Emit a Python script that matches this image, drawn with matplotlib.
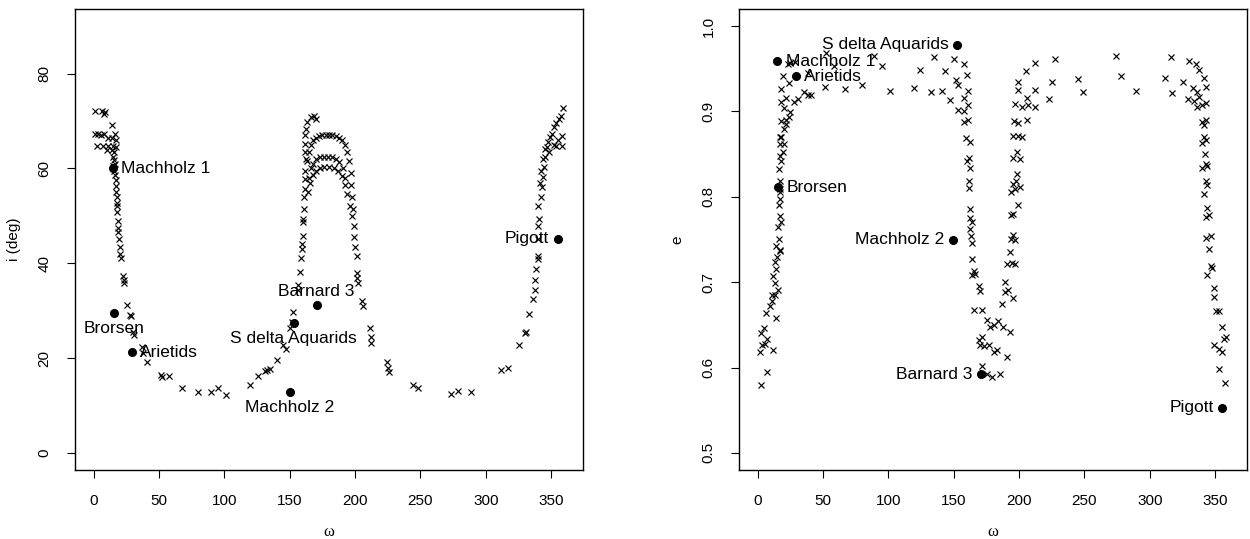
import matplotlib.pyplot as plt

plt.rcParams['font.family'] = ['Liberation Sans', 'DejaVu Sans']

# left panel: omega vs inclination
omega_i = [1.0, 6.6, 8.5, 7.5, 14.2, 1.0, 3.5, 5.6, 8.1, 16.2, 10.6, 13.7, 16.7, 2.3, 7.4, 11.2, 15.0, 16.7,
           9.9, 13.7, 15.7, 14.5, 15.5, 16.3, 14.5, 15.8, 16.5, 17.0, 16.8, 17.3, 17.6, 17.8, 17.5, 18.0,
           18.4, 18.8, 18.6, 19.2, 19.8, 20.4, 21.0, 22.1, 23.3, 22.8, 25.1, 27.6, 28.2, 30.2, 31.0, 37.0,
           37.5, 40.8, 51.2, 52.0, 57.3, 67.5, 79.6, 89.8, 95.4, 101.2, 119.7, 125.3, 130.9, 132.9, 134.9,
           140.5, 145.1, 147.0, 150.1, 151.9, 152.7,
           156.2, 156.5, 157.8, 158.8, 159.2, 159.5, 159.8, 160.2, 160.4, 160.7, 161.2, 161.4, 161.8, 162.0,
           162.5, 162.0, 161.5, 161.6, 162.2, 163.5, 166.0, 168.5, 170.0,
           163.5, 164.5, 166.0, 168.0, 170.0, 172.5, 175.0, 177.5, 180.0, 182.5, 185.0, 187.5, 190.0, 192.0,
           194.0, 195.5, 196.5, 197.0, 197.5,
           165.0, 166.5, 168.0, 170.0, 173.0, 176.0, 179.0, 182.0, 185.0, 188.0, 190.5, 192.5,
           164.0, 165.5, 167.5, 170.0, 173.0, 176.0, 180.0, 184.0, 187.0, 190.0, 192.0, 193.5,
           196.0, 197.5, 198.3, 198.8, 199.5, 200.0, 201.4, 201.4, 201.6, 202.2, 205.2, 205.8, 211.5, 211.8,
           212.0, 224.2, 225.5, 226.0, 244.5, 248.3,
           273.7, 278.7, 288.9, 311.7, 316.8, 325.6, 330.2, 330.8, 332.7, 335.8, 337.8, 337.6, 338.3, 339.6,
           340.3, 340.0, 340.2, 341.0, 340.3, 342.4, 343.2, 344.0, 344.7, 345.4, 347.0, 349.2, 352.3, 356.1,
           359.0, 343.5, 345.0, 347.5, 350.5, 354.0, 357.5, 348.0, 352.0, 355.5, 358.5, 354.0, 358.0, 342.5,
           341.8]
incl = [72.0, 72.0, 71.8, 71.5, 69.2, 67.3, 67.3, 67.0, 67.3, 67.3, 66.3, 66.3, 66.0, 64.8, 64.8, 64.8, 64.8, 64.5,
        63.8, 63.8, 63.5, 62.5, 61.8, 61.0, 60.5, 59.5, 58.5, 57.5, 56.3, 55.0, 54.0, 52.8, 52.0, 50.8,
        49.0, 47.5, 46.5, 45.0, 43.5, 42.0, 41.1, 37.3, 35.8, 36.5, 31.2, 29.1, 28.8, 25.6, 24.8, 22.4,
        21.1, 19.2, 16.4, 16.0, 16.2, 13.6, 12.9, 12.9, 13.6, 12.2, 14.3, 16.2, 17.3, 17.5, 17.8,
        19.6, 22.8, 22.0, 26.3, 27.7, 29.8,
        34.4, 35.5, 38.1, 41.1, 43.0, 44.0, 45.7, 48.6, 49.3, 51.4, 53.9, 55.6, 57.8, 59.5,
        62.0, 63.4, 65.2, 67.0, 68.4, 69.8, 70.8, 71.1, 70.5,
        61.5, 63.5, 65.0, 66.0, 66.5, 66.8, 67.0, 67.0, 67.0, 67.0, 66.8, 66.5, 66.0, 65.0,
        63.5, 61.5, 59.0, 56.5, 54.0,
        58.0, 60.0, 61.0, 62.0, 62.3, 62.4, 62.4, 62.3, 62.0, 61.3, 60.0, 58.0,
        55.0, 57.0, 58.5, 59.5, 60.0, 60.2, 60.2, 60.0, 59.4, 58.3, 56.5, 54.5,
        52.0, 50.0, 51.4, 47.9, 45.5, 43.5, 41.5, 38.0, 36.8, 35.8, 32.0, 30.9, 26.3, 24.5,
        23.1, 19.2, 18.0, 17.1, 14.3, 13.6,
        12.4, 13.1, 12.9, 17.5, 18.0, 22.8, 25.2, 25.6, 29.3, 32.4, 34.3, 36.4, 38.8, 40.8,
        41.5, 45.0, 47.9, 49.3, 52.1, 53.9, 56.0, 58.1, 60.2, 62.4, 64.5, 66.6, 68.7, 70.4,
        72.8, 62.0, 64.0, 65.5, 67.3, 69.5, 71.0, 63.5, 65.0, 66.0, 66.8, 64.8, 64.8, 59.5,
        57.0]

# right panel: omega vs eccentricity
omega_e = [2.2, 7.2, 1.4, 2.2, 4.7, 3.2, 5.7, 7.2, 11.6, 14.1, 6.5, 9.0, 10.8, 10.5, 13.3, 15.4, 13.3, 11.6,
           14.1, 12.8, 14.9, 14.1, 16.6, 17.0, 16.1, 15.4, 17.9, 16.8, 15.9, 16.6, 16.6, 17.0, 16.6, 15.9,
           17.9, 17.0, 19.2, 17.0, 20.0, 17.9, 16.6, 20.4, 21.5, 17.9, 21.5, 24.2, 25.0, 19.9, 17.9, 21.5,
           17.9, 24.2, 27.6, 30.6, 35.7, 38.2, 19.2, 23.0, 41.0, 51.4, 66.6, 79.6, 100.9, 119.5, 132.2,
           38.2, 52.2, 58.0, 89.0, 95.3, 124.5, 134.7, 25.0, 28.5,
           149.9, 143.6, 157.5, 141.0, 147.4, 152.0, 153.5, 160.1, 157.5, 161.2, 153.5, 157.5, 161.2, 157.5,
           161.2, 159.6, 162.7, 160.1, 162.2, 161.5, 161.5, 161.5, 162.2, 162.2, 163.9, 162.7, 163.2, 163.9,
           163.9, 165.1, 163.9, 166.4, 169.0, 170.2, 165.1, 171.5, 175.3, 177.8, 180.4, 184.2, 188.0, 193.0,
           169.0, 171.5, 170.2, 172.8, 176.6, 180.4, 183.0, 190.6, 171.5, 175.3, 179.1, 185.5,
           186.8, 189.3, 191.8, 195.1, 189.3, 190.6, 194.4, 196.9, 193.0, 193.5, 196.9, 195.1, 194.0, 195.1,
           198.8, 194.0, 196.9, 200.7, 197.6, 195.6, 198.1, 195.6, 198.1, 200.7, 195.6, 198.8, 202.0, 196.2,
           199.4, 206.3, 197.0, 202.0, 207.1, 212.1, 206.3, 212.1, 198.8, 199.4, 205.3, 212.1, 227.4, 223.0,
           224.9, 245.1, 248.9, 273.8, 278.1, 289.6,
           316.2, 311.9, 317.0, 325.1, 330.2, 335.3, 337.8, 341.6, 332.7, 336.5, 342.9, 328.9, 334.0, 337.8,
           336.5, 340.3, 342.9, 340.3, 342.9, 341.6, 341.6, 342.9, 340.3, 342.0, 342.9, 340.3, 344.1, 342.9,
           344.1, 341.6, 344.1, 345.4, 342.9, 342.9, 346.7, 345.4, 346.7, 344.1, 347.9, 349.2, 349.2, 350.5,
           353.0, 355.1, 358.3, 357.0, 349.2, 353.0, 355.1, 353.0, 357.6]
ecc = [0.580, 0.595, 0.618, 0.641, 0.646, 0.626, 0.628, 0.633, 0.621, 0.658, 0.664, 0.672, 0.678, 0.685, 0.685,
       0.691, 0.699, 0.707, 0.715, 0.724, 0.729, 0.742, 0.737, 0.738, 0.751, 0.765, 0.771, 0.778, 0.790,
       0.798, 0.806, 0.809, 0.818, 0.833, 0.842, 0.848, 0.852, 0.862, 0.862, 0.870, 0.870, 0.879, 0.885,
       0.889, 0.890, 0.893, 0.899, 0.904, 0.911, 0.916, 0.926, 0.933, 0.911, 0.915, 0.923, 0.919, 0.942,
       0.955, 0.919, 0.929, 0.926, 0.931, 0.924, 0.927, 0.923, 0.945, 0.968, 0.953, 0.965, 0.953, 0.949,
       0.964, 0.957, 0.958,
       0.961, 0.947, 0.955, 0.924, 0.913, 0.937, 0.931, 0.943, 0.916, 0.924, 0.902, 0.900, 0.908, 0.888,
       0.890, 0.869, 0.864, 0.842, 0.834, 0.846, 0.818, 0.810, 0.786, 0.775, 0.770, 0.762, 0.754, 0.746,
       0.727, 0.713, 0.708, 0.710, 0.695, 0.690, 0.668, 0.668, 0.656, 0.648, 0.650, 0.654, 0.648, 0.642,
       0.632, 0.636, 0.627, 0.625, 0.626, 0.618, 0.620, 0.612, 0.602, 0.593, 0.589, 0.593,
       0.674, 0.688, 0.691, 0.682, 0.700, 0.721, 0.722, 0.721, 0.735, 0.751, 0.750, 0.755, 0.779, 0.780,
       0.790, 0.806, 0.809, 0.811, 0.818, 0.815, 0.827, 0.846, 0.852, 0.844, 0.871, 0.871, 0.870, 0.889,
       0.887, 0.890, 0.909, 0.905, 0.908, 0.905, 0.916, 0.925, 0.925, 0.935, 0.947, 0.957, 0.961, 0.915,
       0.935, 0.938, 0.923, 0.965, 0.941, 0.924,
       0.964, 0.939, 0.922, 0.935, 0.959, 0.955, 0.949, 0.939, 0.927, 0.923, 0.929, 0.915, 0.912, 0.917,
       0.905, 0.908, 0.910, 0.888, 0.890, 0.884, 0.870, 0.866, 0.863, 0.850, 0.838, 0.834, 0.836, 0.818,
       0.814, 0.803, 0.787, 0.779, 0.776, 0.752, 0.754, 0.739, 0.719, 0.708, 0.717, 0.693, 0.683, 0.666,
       0.666, 0.648, 0.636, 0.634, 0.627, 0.622, 0.618, 0.598, 0.582]

# named streams / comets
names = ['Machholz 1', 'Brorsen', 'Arietids', 'S delta Aquarids', 'Barnard 3', 'Machholz 2', 'Pigott']
name_omega_i = [14.5, 15.2, 29.0, 153.0, 170.5, 150.0, 355.0]
name_incl = [60.0, 29.5, 21.2, 27.4, 31.2, 12.9, 45.2]
name_omega_e = [14.9, 15.4, 29.3, 152.7, 170.7, 149.4, 355.4]
name_ecc = [0.959, 0.811, 0.941, 0.978, 0.592, 0.750, 0.553]

# label placement (R-style pos: 1 below, 2 left, 3 above, 4 right)
pos_i = [4, 1, 4, 1, 3, 1, 2]
pos_e = [4, 4, 4, 2, 2, 2, 2]

offsets = {1: ((0, -11), 'center', 'center'),
           2: ((-6, 0), 'right', 'center'),
           3: ((0, 10), 'center', 'center'),
           4: ((6, 0), 'left', 'center')}

fig = plt.figure(figsize=(12.5, 5.39), dpi=100)
ax1 = fig.add_axes([75 / 1250, 69 / 539, 508 / 1250, 461 / 539])
ax2 = fig.add_axes([739 / 1250, 69 / 539, 508 / 1250, 461 / 539])


def style(ax):
    ax.set_xlim(-14.4, 374.4)
    ax.set_xticks([0, 50, 100, 150, 200, 250, 300, 350])
    ax.tick_params(direction='out', length=6, width=0.8, labelsize=11, pad=11)
    ax.tick_params(axis='y', labelrotation=90)
    for lab in ax.get_yticklabels():
        lab.set_verticalalignment('center')
    for s in ax.spines.values():
        s.set_linewidth(1.0)
    ax.set_xlabel('ω', fontsize=12, family='Liberation Serif', labelpad=12)


def mark(ax, xs, ys, nx, ny, pos):
    ax.plot(xs, ys, 'x', color='black', ms=4.6, mew=0.85)
    ax.plot(nx, ny, 'o', color='black', ms=5.5)
    for n, x, y, p in zip(names, nx, ny, pos):
        off, ha, va = offsets[p]
        ax.annotate(n, (x, y), xytext=off, textcoords='offset points',
                    ha=ha, va=va, fontsize=12.5)


mark(ax1, omega_i, incl, name_omega_i, name_incl, pos_i)
ax1.set_ylim(-3.6, 93.6)
ax1.set_yticks([0, 20, 40, 60, 80])
ax1.set_ylabel('i (deg)', fontsize=11, labelpad=12)
style(ax1)

mark(ax2, omega_e, ecc, name_omega_e, name_ecc, pos_e)
ax2.set_ylim(0.48, 1.02)
ax2.set_yticks([0.5, 0.6, 0.7, 0.8, 0.9, 1.0])
ax2.set_ylabel('e', fontsize=11, labelpad=12)
style(ax2)

fig.savefig('out.png', dpi=100)
